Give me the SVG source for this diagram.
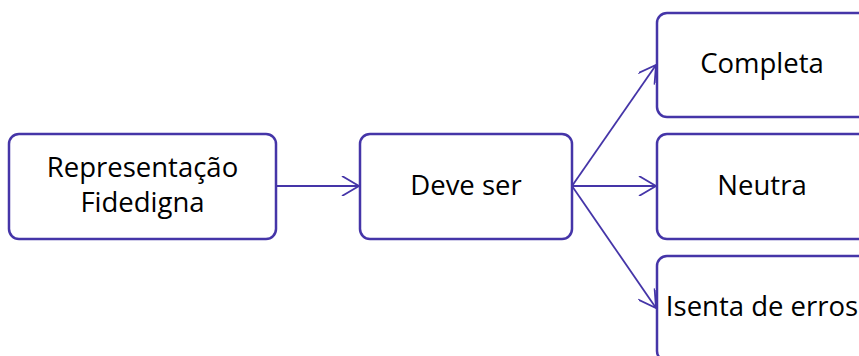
<svg xmlns="http://www.w3.org/2000/svg" width="859" height="356" viewBox="0 0 859 356">
<style>
.box{fill:#fff;stroke:#4535A8;stroke-width:2.5}
.lbl{font-family:"Open Sans","Liberation Sans",sans-serif;font-size:27.5px;fill:#000;text-anchor:middle}
.conn{fill:none;stroke:#4535A8;stroke-width:1.8}
</style>
<defs>
<marker id="arr" viewBox="0 0 20 20" refX="18" refY="10" markerWidth="20" markerHeight="20" markerUnits="userSpaceOnUse" orient="auto">
<path d="M1,0 L18,10 L1,20" fill="none" stroke="#4535A8" stroke-width="1.8"/>
</marker>
</defs>
<rect width="859" height="356" fill="#fff"/>
<g id="connectors">
<line class="conn" x1="276" y1="186" x2="359" y2="186" marker-end="url(#arr)"/>
<line class="conn" x1="572" y1="186" x2="656" y2="186" marker-end="url(#arr)"/>
<line class="conn" x1="572" y1="186" x2="656" y2="65" marker-end="url(#arr)"/>
<line class="conn" x1="572" y1="186" x2="656" y2="308" marker-end="url(#arr)"/>
</g>
<g id="node-representacao">
<rect class="box" x="9" y="134" width="267" height="105" rx="10"/>
<text class="lbl" x="142.5" y="177">Representação</text>
<text class="lbl" x="142.5" y="212">Fidedigna</text>
</g>
<g id="node-deve-ser">
<rect class="box" x="360" y="134" width="212" height="105" rx="10"/>
<text class="lbl" x="466" y="195">Deve ser</text>
</g>
<g id="node-completa">
<rect class="box" x="657" y="13" width="212" height="104" rx="10"/>
<text class="lbl" x="762" y="73">Completa</text>
</g>
<g id="node-neutra">
<rect class="box" x="657" y="134" width="212" height="105" rx="10"/>
<text class="lbl" x="762" y="195">Neutra</text>
</g>
<g id="node-isenta">
<rect class="box" x="657" y="256" width="212" height="105" rx="10"/>
<text class="lbl" x="762" y="316">Isenta de erros</text>
</g>
</svg>
